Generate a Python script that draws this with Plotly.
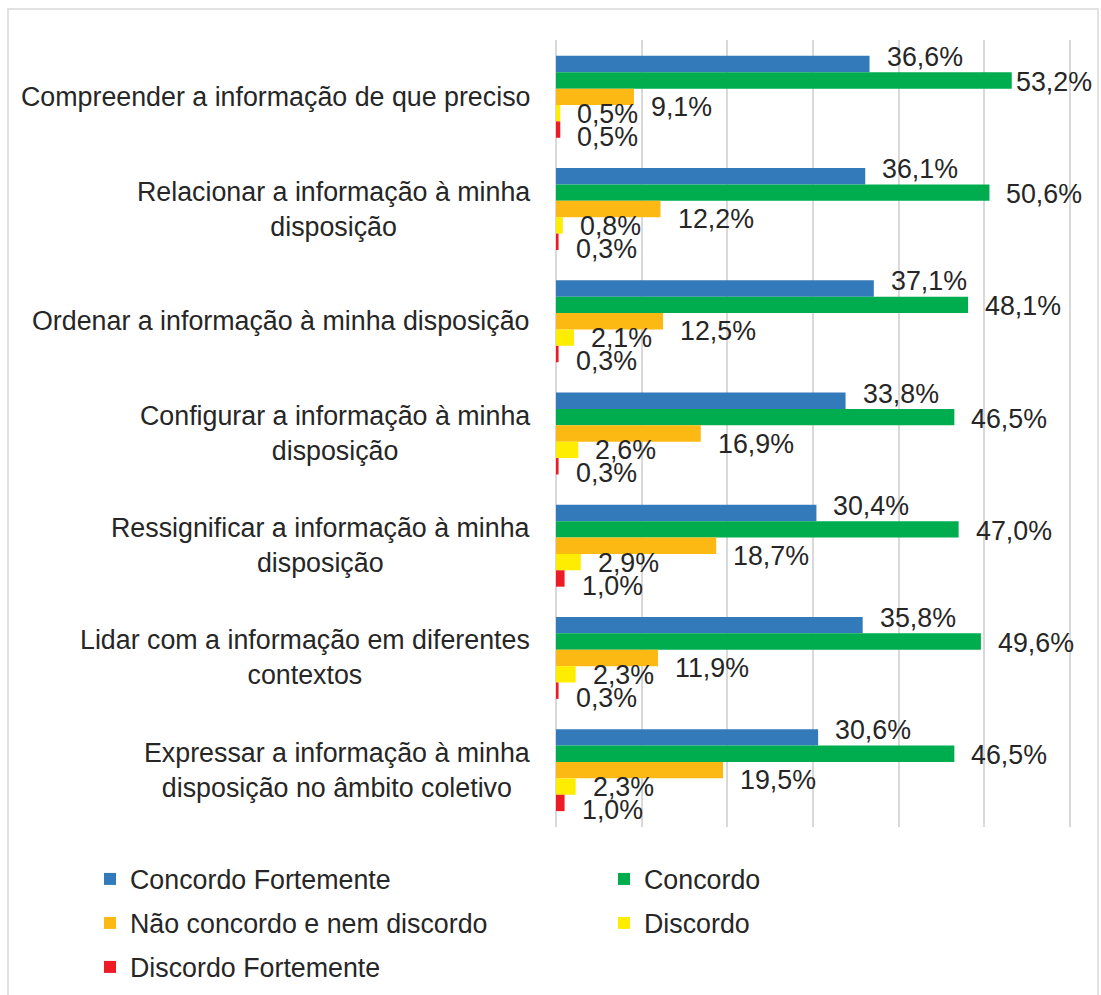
import plotly.graph_objects as go

categories = [
    "Compreender a informação de que preciso",
    "Relacionar a informação à minha<br>disposição",
    "Ordenar a informação à minha disposição",
    "Configurar a informação à minha<br>disposição",
    "Ressignificar a informação à minha<br>disposição",
    "Lidar com a informação em diferentes<br>contextos",
    "Expressar a informação à minha<br>disposição no âmbito coletivo",
]

series_names = [
    "Concordo Fortemente",
    "Concordo",
    "Não concordo e nem discordo",
    "Discordo",
    "Discordo Fortemente",
]

concordo_fortemente = [36.6, 36.1, 37.1, 33.8, 30.4, 35.8, 30.6]
concordo = [53.2, 50.6, 48.1, 46.5, 47.0, 49.6, 46.5]
nao_concordo_nem_discordo = [9.1, 12.2, 12.5, 16.9, 18.7, 11.9, 19.5]
discordo = [0.5, 0.8, 2.1, 2.6, 2.9, 2.3, 2.3]
discordo_fortemente = [0.5, 0.3, 0.3, 0.3, 1.0, 0.3, 1.0]

series_values = [concordo_fortemente, concordo, nao_concordo_nem_discordo,
                 discordo, discordo_fortemente]
colors = ["#337ABB", "#00AD4E", "#FDB913", "#FFED00", "#ED1C24"]

# ---- layout geometry ----
W, H = 1101, 995
ML, MT, MB = 556, 40, 168
PW = 516
MR = W - ML - PW
PH = H - MT - MB
XMAX = 60 * PW / 514.0
BARGAP = 0.27
FONT = "Liberation Sans, Arial, sans-serif"
TXT = "#262626"
FS = 26.8

def px_x(px):
    return (px - ML) / PW

def px_y(py):
    return (H - MB - py) / PH

fig = go.Figure()
legend_ids = ["legend", "legend2", "legend3", "legend4", "legend5"]
for name, vals, col, lg in zip(series_names, series_values, colors, legend_ids):
    fig.add_trace(go.Bar(
        y=categories, x=vals, name=name, orientation="h",
        marker=dict(color=col, line=dict(width=0)),
        legend=lg, hoverinfo="x+name",
    ))

annotations = []
# category labels
for c in categories:
    annotations.append(dict(
        x=px_x(532), xref="paper", y=c, yref="y", text=c,
        xanchor="right", yanchor="middle", align="center",
        showarrow=False, font=dict(family=FONT, size=FS, color=TXT),
    ))

# data labels
pitch = PH / len(categories)
bar_px = pitch * (1 - BARGAP) / len(series_names)
ppu = PW / XMAX
label_offsets = [-7, 1.5, 10, 0.5, 7]
label_w = 76
max_right = 1090 - ML
for i, (vals, off) in enumerate(zip(series_values, label_offsets)):
    center = (i - (len(series_names) - 1) / 2) * bar_px
    for c, v in zip(categories, vals):
        xs = min(15, max_right - label_w - v * ppu)
        annotations.append(dict(
            x=v, xref="x", y=c, yref="y",
            text=f"{v:.1f}%".replace(".", ","),
            xanchor="left", yanchor="middle", showarrow=False,
            xshift=xs, yshift=-(center + off),
            font=dict(family=FONT, size=FS, color=TXT),
        ))

leg_common = dict(
    orientation="h", xanchor="left", yanchor="middle",
    font=dict(family=FONT, size=FS, color=TXT),
    bgcolor="rgba(0,0,0,0)", borderwidth=0,
)
col_x = [90, 604]
row_y = [879, 923, 967]
legend_layout = {}
for k, lg in enumerate(legend_ids):
    legend_layout[lg] = dict(x=px_x(col_x[k % 2]), y=px_y(row_y[k // 2]), **leg_common)

fig.update_layout(
    width=W, height=H,
    margin=dict(l=ML, r=MR, t=MT, b=MB, pad=0, autoexpand=False),
    paper_bgcolor="white", plot_bgcolor="white",
    barmode="group", bargap=BARGAP, bargroupgap=0,
    font=dict(family=FONT, size=FS, color=TXT),
    xaxis=dict(range=[0, XMAX], tickvals=[0, 10, 20, 30, 40, 50, 60],
               showticklabels=False,
               showgrid=True, gridcolor="#D9D9D9", gridwidth=1.5,
               zeroline=True, zerolinecolor="#D9D9D9", zerolinewidth=1.5,
               showline=False, ticks="", fixedrange=True),
    yaxis=dict(type="category", categoryorder="array", categoryarray=categories,
               autorange="reversed", showticklabels=False, showgrid=False,
               zeroline=False, showline=False, ticks="", fixedrange=True),
    annotations=annotations,
    shapes=[dict(type="rect", xref="paper", yref="paper",
                 x0=px_x(8), x1=px_x(1098), y0=px_y(1005), y1=px_y(9),
                 line=dict(color="#D9D9D9", width=1.5), layer="below")],
    showlegend=True,
    **legend_layout,
)

fig.write_html(
    "out.html",
    config={"displayModeBar": False},
    post_script="document.body.style.margin='0px';document.body.style.padding='0px';",
)
